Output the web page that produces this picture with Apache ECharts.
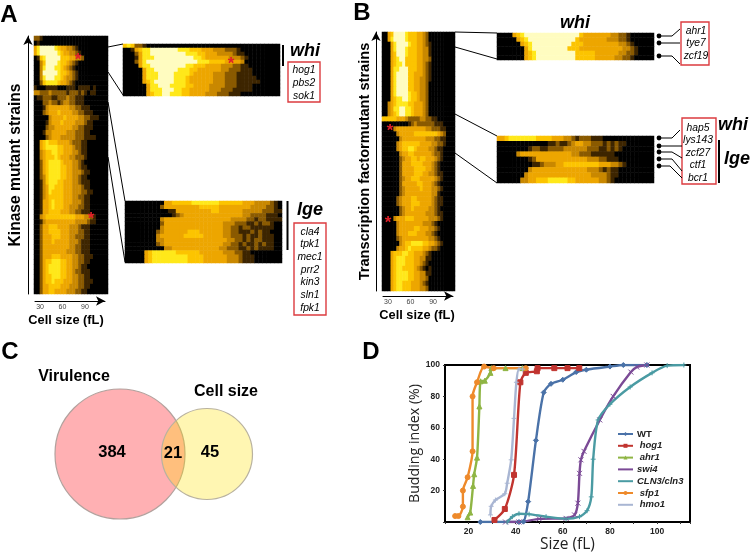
<!DOCTYPE html>
<html>
<head>
<meta charset="utf-8">
<title>Cell size figure</title>
<script src="https://cdn.jsdelivr.net/npm/echarts@6/dist/echarts.min.js"></script>
<style>
  html, body { margin: 0; padding: 0; background: #fff; }
  #main { width: 750px; height: 554px; }
</style>
</head>
<body>
<div id="main"></div>
<script>
// heat rows, one digit per bin, 0 = black ... 7 = pale yellow
const kinaseRows = [
  "2210000000000000000000000", "0100000000000000000000000", "4677777654433210000000000",
  "4677777765443321000000000", "0156777775554433200000000", "0035777765543210000000000",
  "0036777665432100000000000", "0037777765543210000000000", "0036777665433210000000000",
  "0025666654432100000000000", "1000111100011101111010000", "3322232222212221210110000",
  "0112221122232211100000000", "0002232212332211100000000", "0001344444443322111000000",
  "0002344454444332211100000", "0000034444544443322111000", "0000134445444433321100000",
  "0000233444444332211100000", "0001334444433322211000000", "0000234443333322211110000",
  "0045655544443222110000000", "0045666655444322110000000", "0034556655444332110000000",
  "0034555654443322210000000", "0024566665444332100000000", "0024566665544332110000000",
  "0024566665544333211000000", "0023566665544332110000000", "0013566655444332111000000",
  "0013466555444333211000000", "0013465555444333221100000", "0013455555444332211000000",
  "0014456555444333211000000", "0014456555443332211000000", "0014455554443322111000000",
  "0034555555555544433210000", "0013444444444433332110000", "0024455544443332111000000",
  "0024455554443332211000000", "0024445554443322211000000", "0024445444443332111000000",
  "0024444444443322111000000", "0024444444433322111000000", "0024445554444332211100000",
  "0024556665544332211000000", "0024566665544332110000000", "0024566665544322111000000",
  "0024556665544332211000000", "0024556555444332211100000", "0024455554443332211000000",
  "0024455444433322110000000"
];
const kinaseWhiRows = [
  "5652210000000000000000000000000000000000", "0014566777777766655544433322210000000000",
  "0002466777777777666554443333211000000000", "0001466677777777776654444443332100000000",
  "0002467777777777777666555544443000000000", "0000466777777777665554444333221100000000",
  "0000046677777766655444444332221110000000", "0000046667777666654444433322211110000000",
  "0000046667777666544444433322211111000000", "0000045677777666544444433322211111100000",
  "0000004667776666554444333322211110000000", "0000004666777665544444333222111110000000",
  "0000004566776665544443332221110000000000"
];
const kinaseLgeRows = [
  "0000000000445555566666665555554443333210", "0000000002444444444555554444444433332210",
  "0000000000011444444444554444443333322211", "0000000000001234444444444444443322221110",
  "0000000003444444444444444443333221221111", "0000000002444444444444444333222112122100",
  "0000000003444444444444444332212211111100", "0000000023444444555444444332211121211000",
  "0000000034444445555544444332221211211100", "0000000033444444444444444433221212211100",
  "0000000023444444444444444332212112121100", "0000000000334444444444443322211212111100",
  "0000045666666555555444444333221100000000", "0000045666666666555544444433321110000000",
  "0000045666666666555544444433321110000000"
];
const factorRows = [
  "0045777765554432000000000", "0046777765554432000000000", "0004677776554432100000000",
  "0004677765554433100000000", "0004577765554433100000000", "0004567755554433200000000",
  "0004566755554432100000000", "0004667775554432100000000", "0004677775544432100000000",
  "0004677775544332100000000", "0004677775544332000000000", "0004677775544332000000000",
  "0004677776554332000000000", "0004566776554332000000000", "0034566665544432000000000",
  "0034667766544432000000000", "0034567766544432000000000", "5555544432222332211000000",
  "0000000001232222221110000", "0000344444444443322211000", "0000034444455555555432000",
  "0000003444444443332211000", "0000034555555444433221000", "0000034556654444332110000",
  "0000003445544444432210000", "0000002344554554443210000", "0000002444555544432100000",
  "0000002444455554432100000", "0000002444455544332110000", "0000002344555444443210000",
  "0000002444445544432100000", "0000002344444544433210000", "0000002344444444433100000",
  "0000023444554444432110000", "0000023444555444432110000", "0000002344544444332100000",
  "0000002344444443332110000", "0000344455544444333210000", "0000034444444433321000000",
  "0000034444455444332100000", "0000034445554443321000000", "0000023444444444332100000",
  "0000003455666655443210000", "0000034456555544322100000", "0004555665544432100000000",
  "0004566655544331100000000", "0004566655544321000000000", "0004566555543210100000000",
  "0004566665544331100000000", "0004566665544332000000000", "0004566555444321000000000",
  "0004566555444332000000000"
];
const factorWhiRows = [
  "0000456777777777777775444444433221000000", "0000045677777777777754444444333221000000",
  "0000004567777777777555444444444332100000", "0000000467777777775554444444444433210000",
  "0000000456777777777755555444444332210000", "0000000456777777777755555444443322100000"
];
const factorLgeRows = [
  "4456666666555544433212221110000000000000", "0000000000000112112344332221212110000000",
  "0000000012211222233333322211212100000000", "0000034444444444444332221111110000000000",
  "0000000012444444444444433322111000000000", "0000000001123334455555555544433210000000",
  "0000000034444444444444433321211000000000", "0000000344444444444444443333211000000000",
  "0000003344555666665544444433210000000000"
];
const sizeTicks = [30, 60, 90];

// panel C
const vennCounts = [384, 21, 45];

// panel D, [size fL, budding index %]
const wt = [[25,0],[41.4,0],[43.3,0.2],[45.3,13],[48.6,52],[51.9,82.5],[55,88],[60,90.6],[65.7,95.5],[70,97],[80,99],[85.7,100],[95.7,100]];
const hog1 = [[31,1.3],[35.4,8.3],[39.3,30],[42,89],[44.3,95],[49,96],[49.3,98],[56.4,98],[62,98],[67,98]];
const ahr1 = [[19.6,3],[20.7,6],[21.9,23],[22.4,30.4],[23.6,41],[24.6,73.6],[25.1,89.6],[26.9,90],[29.3,95],[29.7,98],[35.7,98],[42.9,98]];
const swi4 = [[35.7,0],[41.4,0],[50,2],[61.4,2.3],[65,4.5],[66.4,12],[67.1,31],[67.7,39.6],[69,45],[75.7,65],[81.4,80],[88.9,95.5],[91.4,98.7],[95.7,100]];
const cln3 = [[36.4,0],[38.6,3.4],[41.4,5.3],[45.7,5],[52.9,3.4],[61.4,2],[67.1,3.4],[70.3,7.2],[72.1,16],[72.9,40],[75,65],[80,75],[88.6,86],[97.9,95],[104.3,99.6],[111.4,100]];
const sfp1 = [[14.3,3.8],[15.7,3.8],[17.6,9.8],[17.6,20],[19.6,28.5],[21.7,45],[21.7,80],[23.6,89],[26.6,99],[30.7,98],[44.3,98]];
const hmo1 = [[29.3,4.5],[29.6,10],[31.4,14],[35.4,18],[36.4,24.7],[38.1,39.6],[39.3,66],[40.3,89],[41.4,97.4],[43,97.4]];

const heatColors = ['#000000', '#3d2500', '#8a5a00', '#c98800', '#eda600', '#fcc400', '#ffe81a', '#fffcc0'];
const sans = '"Liberation Sans", Arial, sans-serif';

// one heatmap panel: rows on a category y axis, bins on a category x axis
const heatPanels = [
  { rows: kinaseRows, cols: 25, box: [34, 36, 74, 258], name: 'Kinase mutant strains', nameGap: 4, size: 15.6 },
  { rows: kinaseWhiRows, cols: 40, box: [123, 44, 157, 52] },
  { rows: kinaseLgeRows, cols: 40, box: [125, 201, 157, 62] },
  { rows: factorRows, cols: 25, box: [382, 32, 73, 259], name: 'Transcription factormutant strains', nameGap: 4, size: 14.6 },
  { rows: factorWhiRows, cols: 40, box: [497, 33, 157, 27] },
  { rows: factorLgeRows, cols: 40, box: [497, 136, 157, 47] }
];

const grid = [], xAxis = [], yAxis = [], series = [];

heatPanels.forEach(function (p, idx) {
  const xCats = [], yCats = [], cells = [];
  for (let c = 0; c < p.cols; c++) xCats.push(c);
  p.rows.forEach(function (row, r) {
    const y = p.rows.length - 1 - r;
    yCats.push(y);
    for (let c = 0; c < p.cols; c++) cells.push([c, y, Number(row[c] || 0)]);
  });
  grid.push({ left: p.box[0], top: p.box[1], width: p.box[2], height: p.box[3] });
  xAxis.push({ type: 'category', gridIndex: idx, data: xCats, show: false });
  yAxis.push({
    type: 'category', gridIndex: idx, data: yCats,
    show: !!p.name,
    offset: 6,
    name: p.name,
    nameLocation: 'middle',
    nameGap: p.nameGap,
    nameTextStyle: { fontFamily: sans, fontWeight: 'bold', fontSize: p.size, color: '#000' },
    axisLine: { show: !!p.name, symbol: ['none', 'arrow'], symbolSize: [7, 9], lineStyle: { color: '#000', width: 1 } },
    axisTick: { show: false },
    axisLabel: { show: false }
  });
  series.push({
    type: 'heatmap', xAxisIndex: idx, yAxisIndex: idx, data: cells,
    emphasis: { disabled: true }
  });
});

// cell size arrows under the two big panels
[[35, 301, 70, 23.3, 116.7], [383, 296, 70, 23.5, 116.5]].forEach(function (a) {
  const idx = grid.length;
  grid.push({ left: a[0], top: a[1] - 1, width: a[2], height: 1 });
  xAxis.push({
    type: 'value', gridIndex: idx, min: a[3], max: a[4],
    splitLine: { show: false },
    axisLine: { symbol: ['none', 'arrow'], symbolSize: [7, 9], lineStyle: { color: '#000', width: 1 } },
    axisTick: { show: false },
    axisLabel: { customValues: sizeTicks, fontSize: 7, color: '#444', margin: 3, fontFamily: sans }
  });
  yAxis.push({ type: 'value', gridIndex: idx, show: false });
  series.push({ type: 'scatter', xAxisIndex: idx, yAxisIndex: idx, data: [], silent: true });
});

// venn, hidden 1:1 axes
const vennIdx = grid.length;
grid.push({ left: 50, top: 385, width: 220, height: 140 });
xAxis.push({ type: 'value', gridIndex: vennIdx, min: 0, max: 220, show: false });
yAxis.push({ type: 'value', gridIndex: vennIdx, min: 0, max: 140, show: false });
series.push(
  { type: 'scatter', name: 'Virulence', xAxisIndex: vennIdx, yAxisIndex: vennIdx, data: [[70, 71]], symbolSize: 130,
    itemStyle: { color: '#ffb0b3', borderColor: '#b3a19d', borderWidth: 1.2, opacity: 1 } },
  { type: 'scatter', name: 'Cell size', xAxisIndex: vennIdx, yAxisIndex: vennIdx, data: [[157, 71]], symbolSize: 91,
    itemStyle: { color: 'rgba(255,225,0,0.3)', borderColor: '#b9b29f', borderWidth: 1.2, opacity: 1 } },
  { type: 'scatter', xAxisIndex: vennIdx, yAxisIndex: vennIdx, symbolSize: 1,
    data: [[62, 73, vennCounts[0]], [123, 72, vennCounts[1]], [160, 73, vennCounts[2]]],
    itemStyle: { color: 'transparent', opacity: 1 },
    label: { show: true, position: 'inside', formatter: function (d) { return d.value[2]; },
      fontFamily: sans, fontWeight: 'bold', fontSize: 16.5, color: '#000' } }
);

// budding index plot
const budIdx = grid.length;
grid.push({ left: 445, top: 365, width: 245, height: 157, show: true, borderColor: '#000', borderWidth: 2, backgroundColor: '#fff' });
xAxis.push({
  type: 'value', gridIndex: budIdx, min: 10, max: 114, interval: 10,
  name: 'Size (fL)', nameLocation: 'middle', nameGap: 15,
  nameTextStyle: { fontFamily: '"Open Sans"', fontSize: 15.5, color: '#222' },
  splitLine: { show: false },
  axisLine: { lineStyle: { color: '#000', width: 2 } },
  axisTick: { length: 2, lineStyle: { color: '#333' } },
  axisLabel: { fontFamily: sans, fontWeight: 'bold', fontSize: 8.5, color: '#222', margin: 5,
    formatter: function (v) { return v % 20 === 0 ? v : ''; } }
});
yAxis.push({
  type: 'value', gridIndex: budIdx, min: 0, max: 100, interval: 20,
  name: 'Budding index (%)', nameLocation: 'middle', nameGap: 22,
  nameTextStyle: { fontFamily: '"Open Sans"', fontSize: 14.2, color: '#222' },
  splitLine: { show: false },
  axisLine: { lineStyle: { color: '#000', width: 2 } },
  axisTick: { length: 2, lineStyle: { color: '#333' } },
  axisLabel: { fontFamily: sans, fontWeight: 'bold', fontSize: 8.5, color: '#222', margin: 5,
    formatter: function (v) { return v === 0 ? '' : v; } }
});
const budSeries = [
  ['WT', wt, '#4a72a8', 'diamond', 5],
  [' hog1', hog1, '#c1342f', 'rect', 5],
  [' ahr1', ahr1, '#8fb544', 'triangle', 5],
  ['swi4', swi4, '#7b4a96', 'path://M-1,-1L1,1M-1,1L1,-1', 5],
  ['CLN3/cln3', cln3, '#4a9ba3', 'path://M0,-1L0,1M-1,0L1,0', 5],
  [' sfp1', sfp1, '#ee8a2b', 'circle', 5],
  [' hmo1', hmo1, '#a9b6d3', 'path://M0,-1L0,1M-1,0L1,0', 5]
];
budSeries.forEach(function (s) {
  series.push({
    type: 'line', name: s[0], xAxisIndex: budIdx, yAxisIndex: budIdx, data: s[1],
    smooth: 0.25, symbol: s[3], symbolSize: s[4], showSymbol: true,
    lineStyle: { color: s[2], width: 2.4 }, itemStyle: { color: s[2], borderColor: s[2] }
  });
});

// labels, boxes and connector lines around the heat panels, z keeps them over the series
function line(points, width) {
  return { type: 'polyline', silent: true, z: 100, shape: { points: points }, style: { stroke: '#000', lineWidth: width || 1, fill: null } };
}
function text(str, x, y, font, align, fill) {
  return { type: 'text', silent: true, z: 100, style: { text: str, x: x, y: y, font: font, fill: fill || '#000', textAlign: align || 'center', textVerticalAlign: 'middle' } };
}
function redBox(x, y, w, h) {
  return { type: 'rect', silent: true, z: 100, shape: { x: x, y: y, width: w, height: h }, style: { fill: 'transparent', stroke: '#dc3b3f', lineWidth: 1.4 } };
}
function dot(x, y) {
  return { type: 'circle', silent: true, z: 100, shape: { cx: x, cy: y, r: 2.4 }, style: { fill: '#000' } };
}
const gene = 'italic 10.3px ' + sans;
const tag = 'italic bold 18px ' + sans;
const letter = 'bold 24px ' + sans;
const cellFont = 'bold 12.8px ' + sans;
const star = 'bold 17px ' + sans;
const graphic = [
  text('A', 9, 15, letter), text('B', 362, 13, letter), text('C', 10, 352, letter), text('D', 371, 352, letter),
  text('Cell size (fL)', 66, 320, cellFont), text('Cell size (fL)', 417, 315, cellFont),
  text('Virulence', 74, 377, 'bold 16px ' + sans), text('Cell size', 226, 392, 'bold 16px ' + sans),

  line([[108, 47], [123, 44]]), line([[108, 72], [123, 95]]),
  line([[108, 102], [125, 201]]), line([[108, 157], [125, 262]]),
  line([[455, 32], [497, 33]]), line([[455, 47], [497, 59]]),
  line([[455, 114], [497, 136]]), line([[455, 153], [497, 183]]),

  text('*', 78, 60, star, 'center', '#e0202a'), text('*', 91, 219, star, 'center', '#e0202a'),
  text('*', 231, 64, star, 'center', '#e0202a'),
  text('*', 390, 131, star, 'center', '#e0202a'), text('*', 388, 223, star, 'center', '#e0202a'),

  line([[283, 45], [283, 66]], 2), line([[287.5, 201], [287.5, 250]], 2),
  text('whi', 290, 51, tag, 'left'), text('lge', 297, 210, tag, 'left'),
  redBox(288, 62, 32, 40), redBox(294, 223, 32, 92),
  text('hog1', 304, 70, gene), text('pbs2', 304, 83, gene), text('sok1', 304, 96, gene),
  text('cla4', 310, 232, gene), text('tpk1', 310, 244, gene), text('mec1', 310, 257, gene),
  text('prr2', 310, 270, gene), text('kin3', 310, 282, gene), text('sln1', 310, 295, gene), text('fpk1', 310, 308, gene),

  text('whi', 575, 23, tag),
  redBox(681, 22, 28, 43), redBox(682, 118, 34, 66),
  text('ahr1', 696, 31, gene), text('tye7', 696, 43, gene), text('zcf19', 696, 56, gene),
  text('hap5', 698, 128, gene), text('lys143', 698, 140, gene), text('zcf27', 698, 153, gene),
  text('ctf1', 698, 165, gene), text('bcr1', 698, 178, gene),
  dot(659, 36), dot(659, 43), dot(659, 56),
  line([[659, 36], [672, 36], [680, 29]]), line([[659, 43], [680, 43]]), line([[659, 56], [672, 56], [680, 64]]),
  dot(659, 138), dot(659, 146), dot(659, 152), dot(659, 159), dot(659, 166),
  line([[659, 138], [672, 138], [680, 130]]), line([[659, 146], [682, 146]]),
  line([[659, 152], [672, 152], [682, 158]]), line([[659, 159], [672, 159], [682, 171]]),
  line([[659, 166], [670, 166], [682, 178]]),
  text('whi', 733, 125, tag), text('lge', 737, 159, tag),
  line([[719, 140], [719, 183]], 2)
];

const chart = echarts.init(document.getElementById('main'));
chart.setOption({
  animation: false,
  backgroundColor: '#fff',
  visualMap: {
    show: false, type: 'continuous', min: 0, max: 7, seriesIndex: [0, 1, 2, 3, 4, 5],
    inRange: { color: heatColors }
  },
  legend: {
    orient: 'vertical', left: 617, top: 429, itemWidth: 15, itemHeight: 5, itemGap: 1.8, padding: 0,
    textStyle: { fontFamily: sans, fontWeight: 'bold', fontStyle: 'italic', fontSize: 9.5, color: '#222', padding: [0, 0, 0, -1] },
    data: budSeries.map(function (s) {
      return s[0] === 'WT' ? { name: s[0], textStyle: { fontStyle: 'normal' } } : { name: s[0] };
    })
  },
  grid: grid,
  xAxis: xAxis,
  yAxis: yAxis,
  series: series,
  graphic: graphic
});
</script>
</body>
</html>
